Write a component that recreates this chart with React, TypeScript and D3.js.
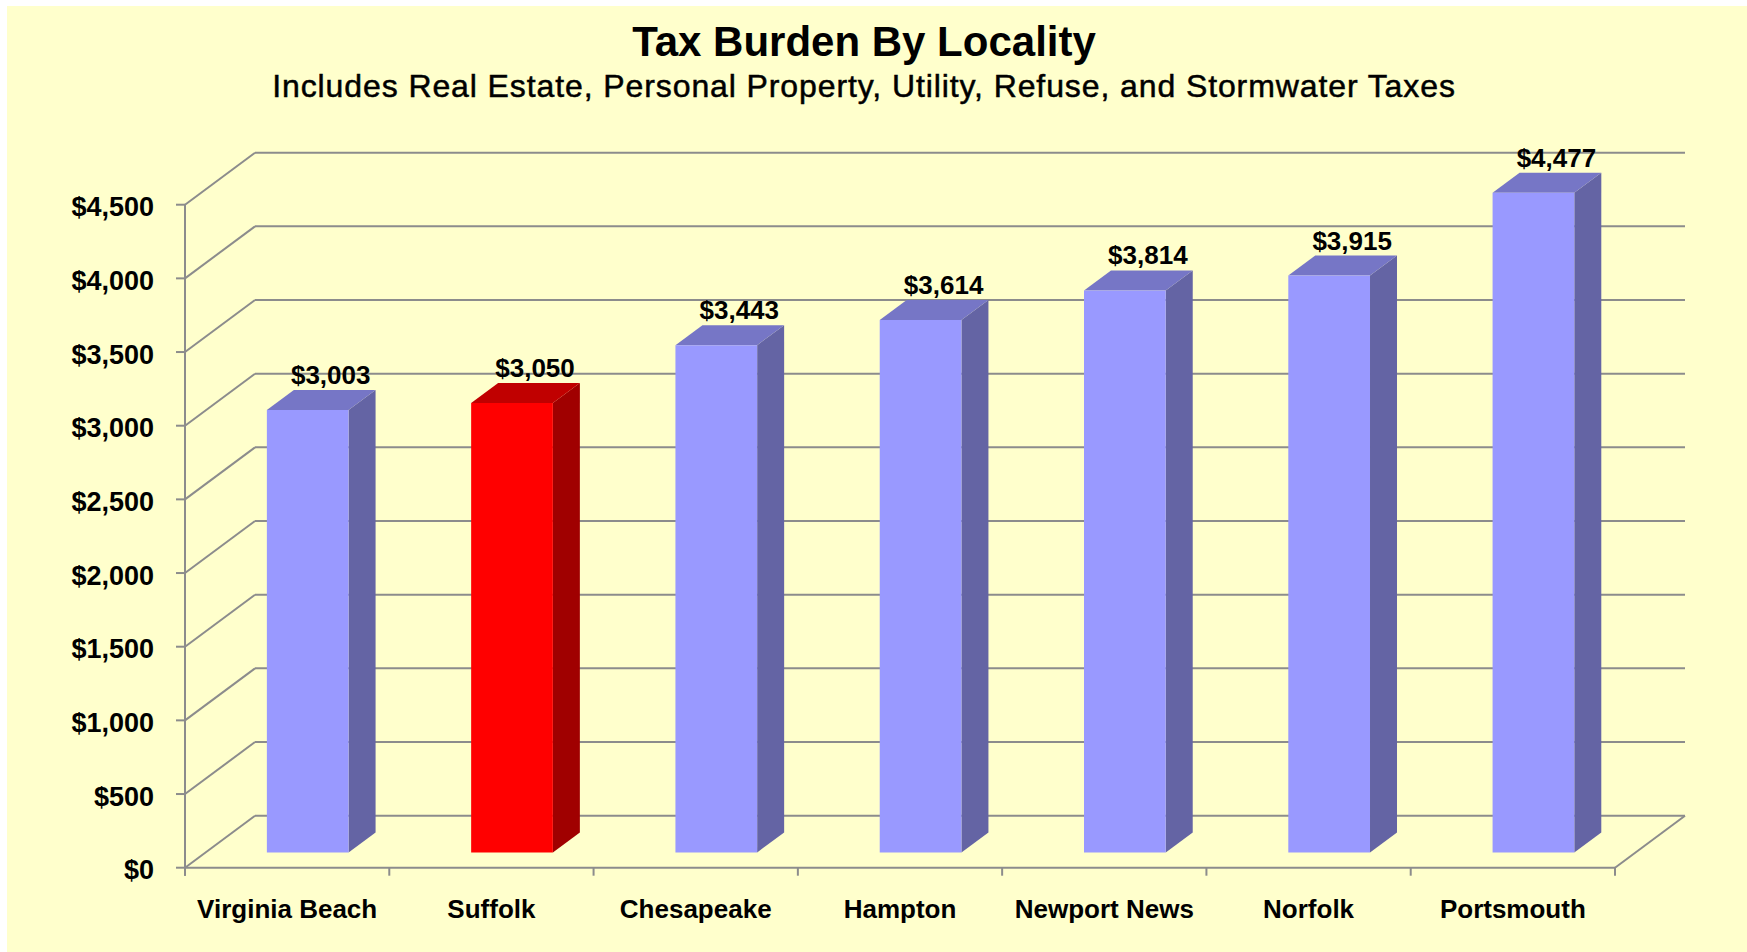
import React from "react";
import * as d3 from "d3";

const categories = ["Virginia Beach", "Suffolk", "Chesapeake", "Hampton", "Newport News", "Norfolk", "Portsmouth"];
const values = [3003, 3050, 3443, 3614, 3814, 3915, 4477];
const highlighted = ["Suffolk"];
const yTicks = [0, 500, 1000, 1500, 2000, 2500, 3000, 3500, 4000, 4500];
const titleText = "Tax Burden By Locality";
const subtitleText = "Includes Real Estate, Personal Property, Utility, Refuse, and Stormwater Taxes";

const W = 1747;
const H = 952;
const FONT = "'Liberation Sans', Arial, sans-serif";

export default function App() {
  const left = 185;
  const right = 1615;
  const DX = 70; // wall depth offsets
  const DY = 52;
  const y = d3.scaleLinear().domain([0, 4500]).range([867.7, 204.7]);
  const x = d3.scaleBand<string>().domain(categories).range([left, right]).paddingInner(0.6).paddingOuter(0.3);
  const step = x.step();
  const bw = x.bandwidth();
  const frac = 0.294;
  const sx = frac * DX;
  const sy = frac * DY;
  const bdx = 27;
  const bdy = 20;
  const grid = "#8c8c8c";
  const fmt = (v: number) => "$" + d3.format(",")(v);

  const blue = { front: "#9999FF", top: "#7676C6", side: "#6464A4" };
  const red = { front: "#FF0000", top: "#C00000", side: "#A00000" };

  return (
    <svg width={W} height={H} style={{ position: "absolute", left: 0, top: 0 }} fontFamily={FONT}>
      <rect x={0} y={0} width={W} height={H} fill="#ffffff" />
      <rect x={7} y={6} width={W - 7} height={H - 6} fill="#FFFFCC" />

      <text x={864} y={56} textAnchor="middle" fontSize={42} fontWeight="bold" fill="#000">{titleText}</text>
      <text x={864} y={96.5} textAnchor="middle" fontSize={32} letterSpacing={0.9} fill="#000" stroke="#000" strokeWidth={0.5}>{subtitleText}</text>

      {/* back wall gridlines and side wall diagonals */}
      {yTicks.map((t) => (
        <g key={t}>
          <line x1={left + DX} x2={right + DX} y1={y(t) - DY} y2={y(t) - DY} stroke={grid} strokeWidth={2} />
          <line x1={left} x2={left + DX} y1={y(t)} y2={y(t) - DY} stroke={grid} strokeWidth={2} />
          <line x1={left - 9} x2={left} y1={y(t)} y2={y(t)} stroke={grid} strokeWidth={2} />
          <text x={154} y={y(t) + 2.5} textAnchor="end" dominantBaseline="central" fontSize={27} fontWeight="bold" fill="#000">{fmt(t)}</text>
        </g>
      ))}
      {/* front vertical axis */}
      <line x1={left} x2={left} y1={y(4500)} y2={y(0) + 8} stroke={grid} strokeWidth={2} />
      {/* floor */}
      <line x1={left} x2={right} y1={y(0)} y2={y(0)} stroke={grid} strokeWidth={2} />
      <line x1={right} x2={right + DX} y1={y(0)} y2={y(0) - DY} stroke={grid} strokeWidth={2} />
      {d3.range(categories.length + 1).map((k) => (
        <line key={k} x1={left + k * step} x2={left + k * step} y1={y(0)} y2={y(0) + 8} stroke={grid} strokeWidth={2} />
      ))}

      {/* bars */}
      {categories.map((c, i) => {
        const v = values[i];
        const col = highlighted.includes(c) ? red : blue;
        const x0 = (x(c) as number) + sx;
        const x1 = x0 + bw;
        const yb = y(0) - sy;
        const yt = y(v) - sy;
        const front = `M${x0},${yb}L${x1},${yb}L${x1},${yt}L${x0},${yt}Z`;
        const side = `M${x1},${yb}L${x1 + bdx},${yb - bdy}L${x1 + bdx},${yt - bdy}L${x1},${yt}Z`;
        const top = `M${x0},${yt}L${x1},${yt}L${x1 + bdx},${yt - bdy}L${x0 + bdx},${yt - bdy}Z`;
        return (
          <g key={c}>
            <path d={side} fill={col.side} />
            <path d={top} fill={col.top} />
            <path d={front} fill={col.front} />
            <text x={x0 + bw / 2 + 23} y={yt - 35} textAnchor="middle" dominantBaseline="central" fontSize={26} fontWeight="bold" fill="#000">{fmt(v)}</text>
          </g>
        );
      })}

      {/* category labels */}
      {categories.map((c) => (
        <text key={c} x={(x(c) as number) + bw / 2} y={918} textAnchor="middle" fontSize={26} fontWeight="bold" fill="#000">{c}</text>
      ))}
    </svg>
  );
}
